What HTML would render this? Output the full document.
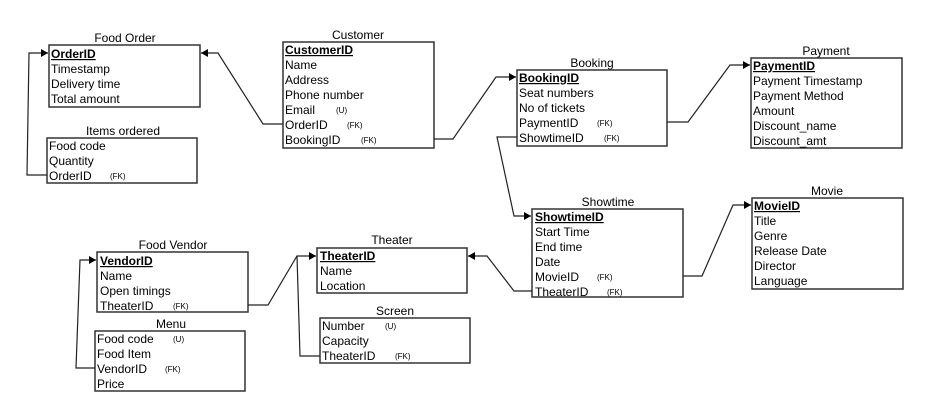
<!DOCTYPE html>
<html><head><meta charset="utf-8"><style>
html,body{margin:0;padding:0;background:#fff;}
svg{display:block;font-family:"Liberation Sans",Arial,sans-serif;}
.r{font-size:12px;fill:#000;}
.t{font-size:12px;fill:#000;text-anchor:middle;}
.s{font-size:8px;fill:#000;}
.b{fill:#fff;stroke:#333;stroke-width:1.5;}
.l{fill:none;stroke:#222;stroke-width:1.2;}
.k{font-weight:bold;text-decoration:underline;}
</style></head><body>
<svg width="928" height="417" viewBox="0 0 928 417" xmlns="http://www.w3.org/2000/svg">
<defs><marker id="a" markerWidth="8" markerHeight="8" refX="7" refY="4" orient="auto" markerUnits="userSpaceOnUse"><path d="M0,0 L7,4 L0,8 z" fill="#000"/></marker></defs>

<!-- Food Order -->
<text class="t" x="125" y="42">Food Order</text>
<rect class="b" x="49" y="45" width="151" height="62"/>
<text class="r k" x="51" y="58">OrderID</text>
<text class="r" x="51" y="73">Timestamp</text>
<text class="r" x="51" y="88">Delivery time</text>
<text class="r" x="51" y="103">Total amount</text>

<!-- Items ordered -->
<text class="t" x="123" y="135">Items ordered</text>
<rect class="b" x="47" y="138" width="150" height="45"/>
<text class="r" x="49" y="150">Food code</text>
<text class="r" x="49" y="165">Quantity</text>
<text class="r" x="49" y="180">OrderID</text><text class="s" x="110" y="179">(FK)</text>

<!-- Customer -->
<text class="t" x="358" y="39">Customer</text>
<rect class="b" x="283" y="42" width="151" height="106"/>
<text class="r k" x="285" y="54">CustomerID</text>
<text class="r" x="285" y="69">Name</text>
<text class="r" x="285" y="84">Address</text>
<text class="r" x="285" y="99">Phone number</text>
<text class="r" x="285" y="114">Email</text><text class="s" x="336" y="113">(U)</text>
<text class="r" x="285" y="129">OrderID</text><text class="s" x="347" y="128">(FK)</text>
<text class="r" x="285" y="144">BookingID</text><text class="s" x="361" y="143">(FK)</text>

<!-- Booking -->
<text class="t" x="592" y="67">Booking</text>
<rect class="b" x="517" y="70" width="150" height="76"/>
<text class="r k" x="519" y="82">BookingID</text>
<text class="r" x="519" y="97">Seat numbers</text>
<text class="r" x="519" y="112">No of tickets</text>
<text class="r" x="519" y="127">PaymentID</text><text class="s" x="597" y="126">(FK)</text>
<text class="r" x="519" y="142">ShowtimeID</text><text class="s" x="604" y="141">(FK)</text>

<!-- Payment -->
<text class="t" x="826" y="55">Payment</text>
<rect class="b" x="751" y="58" width="151" height="90"/>
<text class="r k" x="753" y="70">PaymentID</text>
<text class="r" x="753" y="85">Payment Timestamp</text>
<text class="r" x="753" y="100">Payment Method</text>
<text class="r" x="753" y="115">Amount</text>
<text class="r" x="753" y="130">Discount_name</text>
<text class="r" x="753" y="145">Discount_amt</text>

<!-- Showtime -->
<text class="t" x="608" y="206">Showtime</text>
<rect class="b" x="532" y="209" width="151" height="88"/>
<text class="r k" x="535" y="221">ShowtimeID</text>
<text class="r" x="535" y="236">Start Time</text>
<text class="r" x="535" y="251">End time</text>
<text class="r" x="535" y="266">Date</text>
<text class="r" x="535" y="281">MovieID</text><text class="s" x="597" y="280">(FK)</text>
<text class="r" x="535" y="296">TheaterID</text><text class="s" x="607" y="295">(FK)</text>

<!-- Movie -->
<text class="t" x="827" y="195">Movie</text>
<rect class="b" x="752" y="198" width="151" height="91"/>
<text class="r k" x="754" y="210">MovieID</text>
<text class="r" x="754" y="225">Title</text>
<text class="r" x="754" y="240">Genre</text>
<text class="r" x="754" y="255">Release Date</text>
<text class="r" x="754" y="270">Director</text>
<text class="r" x="754" y="285">Language</text>

<!-- Food Vendor -->
<text class="t" x="173" y="249">Food Vendor</text>
<rect class="b" x="97" y="252" width="151" height="60"/>
<text class="r k" x="100" y="265">VendorID</text>
<text class="r" x="100" y="280">Name</text>
<text class="r" x="100" y="295">Open timings</text>
<text class="r" x="100" y="310">TheaterID</text><text class="s" x="173" y="309">(FK)</text>

<!-- Menu -->
<text class="t" x="171" y="328">Menu</text>
<rect class="b" x="95" y="331" width="150" height="60"/>
<text class="r" x="97" y="343">Food code</text><text class="s" x="173" y="342">(U)</text>
<text class="r" x="97" y="358">Food Item</text>
<text class="r" x="97" y="373">VendorID</text><text class="s" x="165" y="372">(FK)</text>
<text class="r" x="97" y="388">Price</text>

<!-- Theater -->
<text class="t" x="392" y="244">Theater</text>
<rect class="b" x="317" y="248" width="150" height="45"/>
<text class="r k" x="320" y="260">TheaterID</text>
<text class="r" x="320" y="275">Name</text>
<text class="r" x="320" y="290">Location</text>

<!-- Screen -->
<text class="t" x="395" y="315">Screen</text>
<rect class="b" x="320" y="318" width="150" height="45"/>
<text class="r" x="322" y="330">Number</text><text class="s" x="385" y="329">(U)</text>
<text class="r" x="322" y="345">Capacity</text>
<text class="r" x="322" y="360">TheaterID</text><text class="s" x="395" y="359">(FK)</text>

<!-- connectors -->
<polyline class="l" points="283,124 263,124 218,53 201,53" marker-end="url(#a)"/>
<polyline class="l" points="47,175 27,175 29,53 48,53" marker-end="url(#a)"/>
<polyline class="l" points="434,139 453,139 496,77 516,77" marker-end="url(#a)"/>
<polyline class="l" points="667,122 688,122 730,65 750,65" marker-end="url(#a)"/>
<polyline class="l" points="517,137 497,137 514,216 531,216" marker-end="url(#a)"/>
<polyline class="l" points="683,276 702,276 733,205 751,205" marker-end="url(#a)"/>
<polyline class="l" points="532,291 514,291 487,256 468,256" marker-end="url(#a)"/>
<polyline class="l" points="248,305 268,305 297,256 316,256" marker-end="url(#a)"/>
<polyline class="l" points="320,356 300,356 297,256"/>
<polyline class="l" points="95,368 76,368 80,260 96,260" marker-end="url(#a)"/>
</svg>
</body></html>
